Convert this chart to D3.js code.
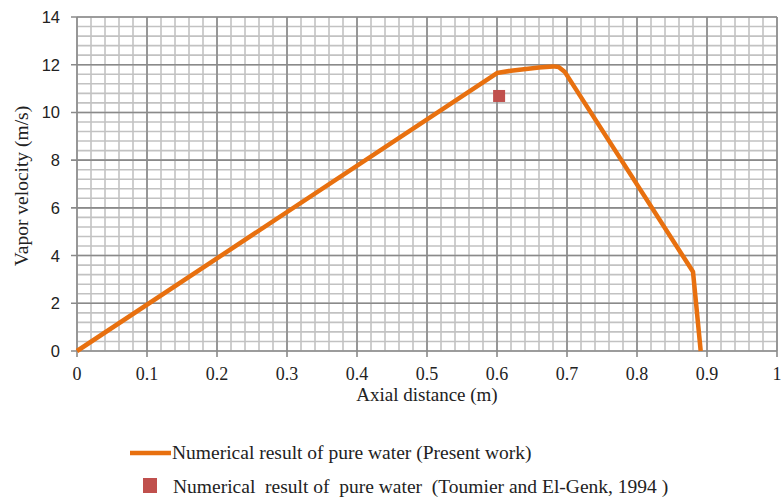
<!DOCTYPE html>
<html>
<head>
<meta charset="utf-8">
<script src="https://cdn.jsdelivr.net/npm/d3@7"></script>
<style>
  body { margin: 0; background: #fff; }
  svg { display: block; }
</style>
</head>
<body>
<div id="chart"></div>
<script>
// data
let lineX = [0, 0.6, 0.62, 0.66, 0.68, 0.688, 0.697, 0.88, 0.891]
let lineY = [0, 11.65, 11.75, 11.88, 11.93, 11.9, 11.69, 3.32, 0]
let pointX = [0.603]
let pointY = [10.69]
let xTicks = [0, 0.1, 0.2, 0.3, 0.4, 0.5, 0.6, 0.7, 0.8, 0.9, 1]
let yTicks = [0, 2, 4, 6, 8, 10, 12, 14]

let width = 781
let height = 497
let margin = { left: 77, right: 4, top: 17, bottom: 146 }

let serif = 'Liberation Serif, Times New Roman, serif'

let svg = d3
  .select('#chart')
  .append('svg')
  .attr('width', width)
  .attr('height', height)

let x = d3.scaleLinear().domain([0, 1]).range([margin.left, width - margin.right])
let y = d3.scaleLinear().domain([0, 14]).range([height - margin.bottom, margin.top])

// minor grid
let minorX = d3.range(0, 1.0001, 0.02)
let minorY = d3.range(0, 14.0001, 0.4)

svg.append('g')
  .selectAll('line')
  .data(minorX)
  .enter()
  .append('line')
  .attr('x1', d => x(d)).attr('x2', d => x(d))
  .attr('y1', y(0)).attr('y2', y(14))
  .attr('stroke', '#c2c2c2')
  .attr('stroke-width', 1.6)

svg.append('g')
  .selectAll('line')
  .data(minorY)
  .enter()
  .append('line')
  .attr('x1', x(0)).attr('x2', x(1))
  .attr('y1', d => y(d)).attr('y2', d => y(d))
  .attr('stroke', '#c2c2c2')
  .attr('stroke-width', 1.6)

// major grid
svg.append('g')
  .selectAll('line')
  .data(xTicks)
  .enter()
  .append('line')
  .attr('x1', d => x(d)).attr('x2', d => x(d))
  .attr('y1', y(0) + 6).attr('y2', y(14))
  .attr('stroke', '#8a8a8a')
  .attr('stroke-width', 1.6)

svg.append('g')
  .selectAll('line')
  .data(yTicks)
  .enter()
  .append('line')
  .attr('x1', x(0) - 6).attr('x2', x(1))
  .attr('y1', d => y(d)).attr('y2', d => y(d))
  .attr('stroke', '#8a8a8a')
  .attr('stroke-width', 1.6)

// tick labels
svg.append('g')
  .selectAll('text')
  .data(yTicks)
  .enter()
  .append('text')
  .attr('x', 60)
  .attr('y', d => y(d) + 6)
  .attr('text-anchor', 'end')
  .attr('font-family', 'Liberation Sans, Arial, sans-serif')
  .attr('font-size', 16.5)
  .attr('fill', '#222')
  .text(d => d)

svg.append('g')
  .selectAll('text')
  .data(xTicks)
  .enter()
  .append('text')
  .attr('x', d => x(d))
  .attr('y', 380)
  .attr('text-anchor', 'middle')
  .attr('font-family', serif)
  .attr('font-size', 18)
  .attr('fill', '#222')
  .text(d => d)

// axis titles
svg.append('text')
  .attr('x', 427)
  .attr('y', 401)
  .attr('text-anchor', 'middle')
  .attr('font-family', serif)
  .attr('font-size', 19)
  .attr('fill', '#222')
  .text('Axial distance (m)')

svg.append('text')
  .attr('transform', 'translate(28,186) rotate(-90)')
  .attr('text-anchor', 'middle')
  .attr('font-family', serif)
  .attr('font-size', 19.5)
  .attr('fill', '#222')
  .text('Vapor velocity (m/s)')

// the line
let lineData = lineX.map((d, i) => [d, lineY[i]])
svg.append('path')
  .datum(lineData)
  .attr('fill', 'none')
  .attr('stroke', '#e8700f')
  .attr('stroke-width', 4.5)
  .attr('stroke-linejoin', 'round')
  .attr('d', d3.line().x(d => x(d[0])).y(d => y(d[1])))

// the point
svg.append('g')
  .selectAll('rect')
  .data(pointX.map((d, i) => [d, pointY[i]]))
  .enter()
  .append('rect')
  .attr('x', d => x(d[0]) - 6)
  .attr('y', d => y(d[1]) - 6)
  .attr('width', 12)
  .attr('height', 12)
  .attr('fill', '#c0504d')

// legend
let legend = svg.append('g')
legend.append('line')
  .attr('x1', 130).attr('x2', 171)
  .attr('y1', 453).attr('y2', 453)
  .attr('stroke', '#e8700f')
  .attr('stroke-width', 4.5)
legend.append('text')
  .attr('x', 172)
  .attr('y', 459)
  .attr('font-family', serif)
  .attr('font-size', 19.5)
  .attr('fill', '#222')
  .text('Numerical result of pure water (Present work)')
legend.append('rect')
  .attr('x', 143).attr('y', 478)
  .attr('width', 14).attr('height', 15)
  .attr('fill', '#c0504d')
legend.append('text')
  .attr('x', 173)
  .attr('y', 493)
  .attr('font-family', serif)
  .attr('font-size', 19.5)
  .attr('fill', '#222')
  .style('white-space', 'pre')
  .text('Numerical  result of  pure water  (Toumier and El-Genk, 1994 )')
</script>
</body>
</html>
